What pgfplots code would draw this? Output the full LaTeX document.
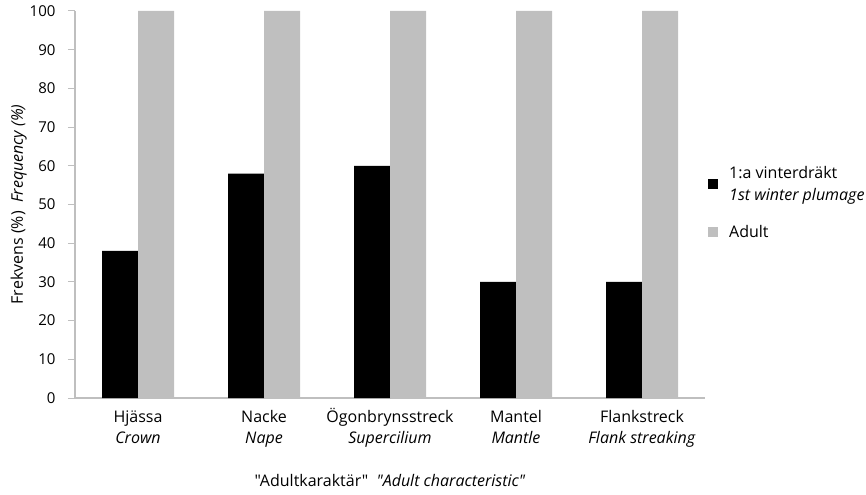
\documentclass[border=0pt]{standalone}
\usepackage{pgfplots}
\pgfplotsset{compat=1.18}
\usepackage{fontspec}
\setmainfont{Open Sans}[Ligatures=TeXOff]
\definecolor{bargrey}{HTML}{BFBFBF}
\definecolor{axgrey}{HTML}{BFBFBF}
\newcommand\ph{\vphantom{ÖHj}}
\begin{document}
\begin{tikzpicture}[font=\fontsize{15bp}{18bp}\selectfont]
\begin{axis}[
  name=ax,
  scale only axis,
  width=630bp, height=387bp,
  ybar, ybar=0pt, bar width=36bp,
  xmin=-0.5, xmax=4.5,
  ymin=0, ymax=100,
  ytick={0,10,...,100},
  xtick=data,
  xticklabels={{\ph Hjässa\\\textit{Crown}},{\ph Nacke\\\textit{Nape}},{\ph Ögonbrynsstreck\\\textit{Supercilium}},{\ph Mantel\\\textit{Mantle}},{\ph Flankstreck\\\textit{Flank streaking}}},
  xticklabel style={align=center, font=\fontsize{16bp}{21bp}\selectfont},
  axis lines*=left,
  axis line style={axgrey, line width=1.2bp},
  x tick style={draw=none},
  y tick style={axgrey, line width=1bp},
  tick align=outside,
  major tick length=7bp,
  yticklabel style={xshift=-9bp, font=\fontsize{15bp}{18bp}\selectfont},
  /pgf/number format/assume math mode=true,
  ylabel={Frekvens (\%)\ \ \textit{Frequency (\%)}},
  ylabel style={at={(axis description cs:-0.071,0.5)}, anchor=south, font=\fontsize{16bp}{18bp}\selectfont},
  xlabel={"Adultkaraktär"\ \ \textit{"Adult characteristic"}},
  xlabel style={at={(axis description cs:0.5,0)}, anchor=base, yshift=-88bp, font=\fontsize{16bp}{20bp}\selectfont},
  legend style={at={(1,0.5)}, anchor=west, xshift=0bp, yshift=2bp, draw=none, fill=none,
    cells={align=left, anchor=west}, row sep=19.5bp,
    font=\fontsize{16bp}{22bp}\selectfont},
  legend image code/.code={\fill[#1] (0bp,-5bp) rectangle (10bp,5bp); \path (19bp,0bp);},
]
\addplot[fill=black, draw=none] coordinates {(0,38) (1,58) (2,60) (3,30) (4,30)};
\addplot[fill=bargrey, draw=none] coordinates {(0,100) (1,100) (2,100) (3,100) (4,100)};
\legend{{1:a vinterdräkt\\\textit{1st winter plumage}},{Adult}}
\end{axis}
\pgfresetboundingbox
\path ([shift={(-75bp,-97bp)}]ax.south west) rectangle ([shift={(161bp,11bp)}]ax.north east);
\end{tikzpicture}
\end{document}
